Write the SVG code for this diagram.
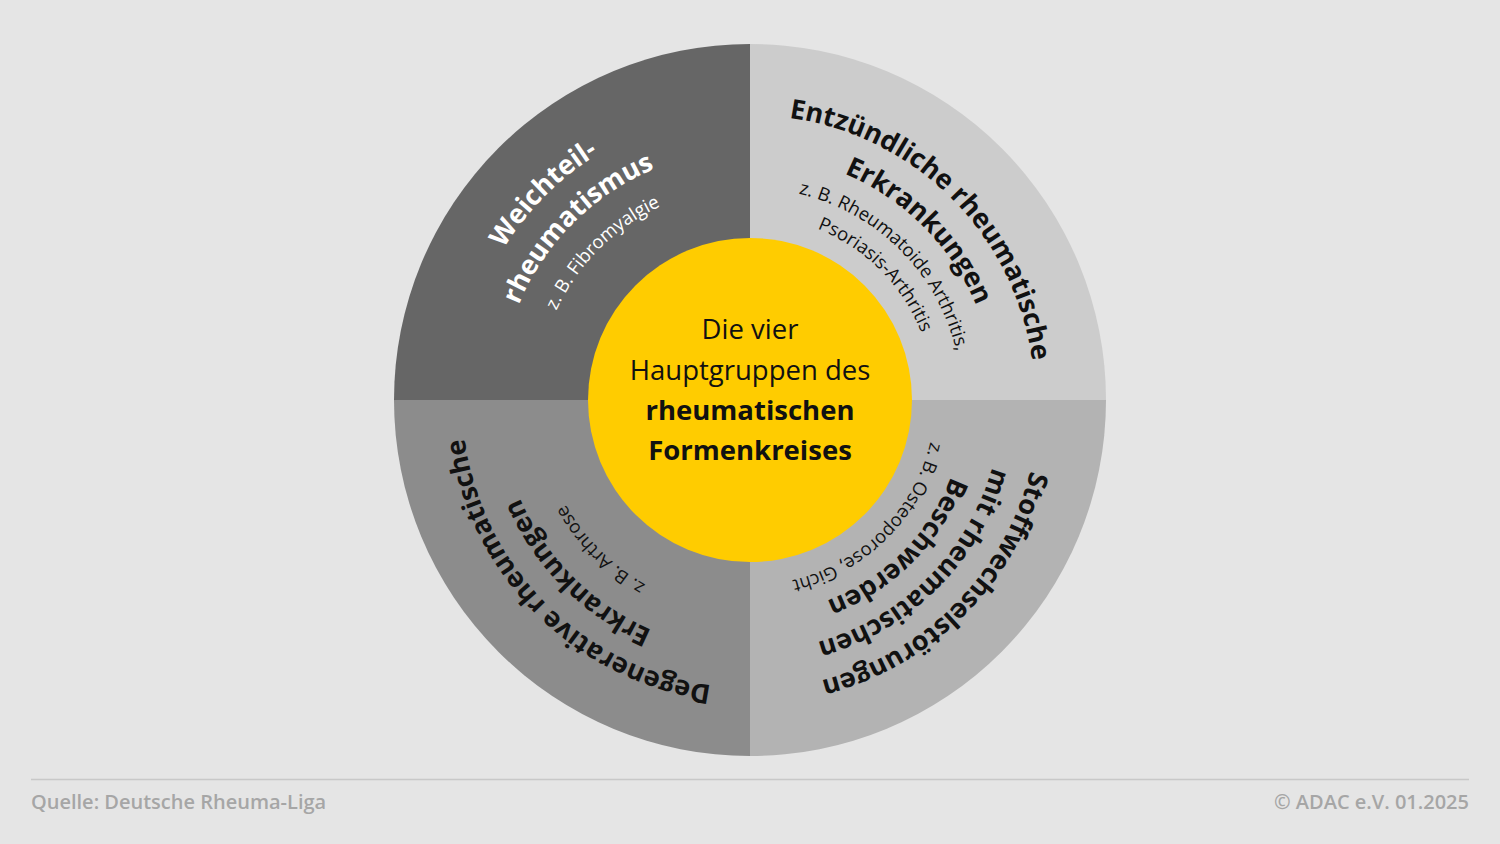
<svg xmlns="http://www.w3.org/2000/svg" xmlns:xlink="http://www.w3.org/1999/xlink" width="1500" height="844" viewBox="0 0 1500 844">
<style>
.b{font-family:"Open Sans","Noto Sans",sans-serif;font-weight:700;font-size:27px}
.r{font-family:"Open Sans","Noto Sans",sans-serif;font-weight:400;font-size:18.5px}
.c{font-family:"Open Sans","Noto Sans",sans-serif;font-size:27.5px;text-anchor:middle;fill:#111}
.f{font-family:"Open Sans","Noto Sans",sans-serif;font-size:20px;font-weight:600;fill:#a6a6a6}
.w{fill:#fff}.k{fill:#111}
</style>
<defs>
<path id="tl1" d="M544.94,605.06 A290,290 0 0 1 955.06,194.94"/>
<path id="tl2" d="M573.22,576.78 A250,250 0 0 1 926.78,223.22"/>
<path id="tl3" d="M598.68,551.32 A214,214 0 0 1 901.32,248.68"/>
<path id="tr1" d="M548.47,198.47 A285,285 0 0 1 951.53,601.53"/>
<path id="tr2" d="M575.35,225.35 A247,247 0 0 1 924.65,574.65"/>
<path id="tr3" d="M600.09,250.09 A212,212 0 0 1 899.91,549.91"/>
<path id="tr4" d="M619.89,269.89 A184,184 0 0 1 880.11,530.11"/>
<path id="br1" d="M955.06,194.94 A290,290 0 0 1 544.94,605.06"/>
<path id="br2" d="M928.19,221.81 A252,252 0 0 1 571.81,578.19"/>
<path id="br3" d="M902.03,247.97 A215,215 0 0 1 597.97,552.03"/>
<path id="br4" d="M881.52,268.48 A186,186 0 0 1 618.48,531.52"/>
<path id="bl1" d="M953.65,603.65 A288,288 0 0 1 546.35,196.35"/>
<path id="bl2" d="M926.78,576.78 A250,250 0 0 1 573.22,223.22"/>
<path id="bl3" d="M899.91,549.91 A212,212 0 0 1 600.09,250.09"/>
</defs>
<rect width="1500" height="844" fill="#e5e5e5"/>
<g id="weichteil">
<path d="M750,400 L394,400 A356,356 0 0 1 750,44 Z" fill="#666666"/>
<text class="b w" text-anchor="middle"><textPath xlink:href="#tl1" startOffset="50%">Weichteil-</textPath></text>
<text class="b w" text-anchor="middle"><textPath xlink:href="#tl2" startOffset="50%">rheumatismus</textPath></text>
<text class="r w" text-anchor="middle"><textPath xlink:href="#tl3" startOffset="50%">z. B. Fibromyalgie</textPath></text>
</g>
<g id="entzuendlich">
<path d="M750,400 L750,44 A356,356 0 0 1 1106,400 Z" fill="#cccccc"/>
<text class="b k" text-anchor="middle"><textPath xlink:href="#tr1" startOffset="50%">Entzündliche rheumatische</textPath></text>
<text class="b k" text-anchor="middle"><textPath xlink:href="#tr2" startOffset="50%">Erkrankungen</textPath></text>
<text class="r k" text-anchor="middle"><textPath xlink:href="#tr3" startOffset="50%">z. B. Rheumatoide Arthritis,</textPath></text>
<text class="r k" text-anchor="middle"><textPath xlink:href="#tr4" startOffset="50%">Psoriasis-Arthritis</textPath></text>
</g>
<g id="stoffwechsel">
<path d="M750,400 L1106,400 A356,356 0 0 1 750,756 Z" fill="#b3b3b3"/>
<text class="b k" text-anchor="middle"><textPath xlink:href="#br1" startOffset="50%">Stoffwechselstörungen</textPath></text>
<text class="b k" text-anchor="middle"><textPath xlink:href="#br2" startOffset="50%">mit rheumatischen</textPath></text>
<text class="b k" text-anchor="middle"><textPath xlink:href="#br3" startOffset="50%">Beschwerden</textPath></text>
<text class="r k" text-anchor="middle"><textPath xlink:href="#br4" startOffset="50%">z. B. Osteoporose, Gicht</textPath></text>
</g>
<g id="degenerativ">
<path d="M750,400 L750,756 A356,356 0 0 1 394,400 Z" fill="#8c8c8c"/>
<text class="b k" text-anchor="middle"><textPath xlink:href="#bl1" startOffset="50%">Degenerative rheumatische</textPath></text>
<text class="b k" text-anchor="middle"><textPath xlink:href="#bl2" startOffset="50%">Erkrankungen</textPath></text>
<text class="r k" text-anchor="middle"><textPath xlink:href="#bl3" startOffset="50%">z. B. Arthrose</textPath></text>
</g>
<g id="center">
<circle cx="750" cy="400" r="162" fill="#ffcc00"/>
<text class="c" x="750" y="339">Die vier</text>
<text class="c" x="750" y="380">Hauptgruppen des</text>
<text class="c" x="750" y="420" font-weight="700">rheumatischen</text>
<text class="c" x="750" y="460" font-weight="700">Formenkreises</text>
</g>
<g id="footer">
<line x1="31" y1="779.5" x2="1469" y2="779.5" stroke="#c8c8c8" stroke-width="1.5"/>
<text class="f" x="31" y="809">Quelle: Deutsche Rheuma-Liga</text>
<text class="f" x="1469" y="809" text-anchor="end">© ADAC e.V. 01.2025</text>
</g>
<g id="connectors"/>
</svg>
